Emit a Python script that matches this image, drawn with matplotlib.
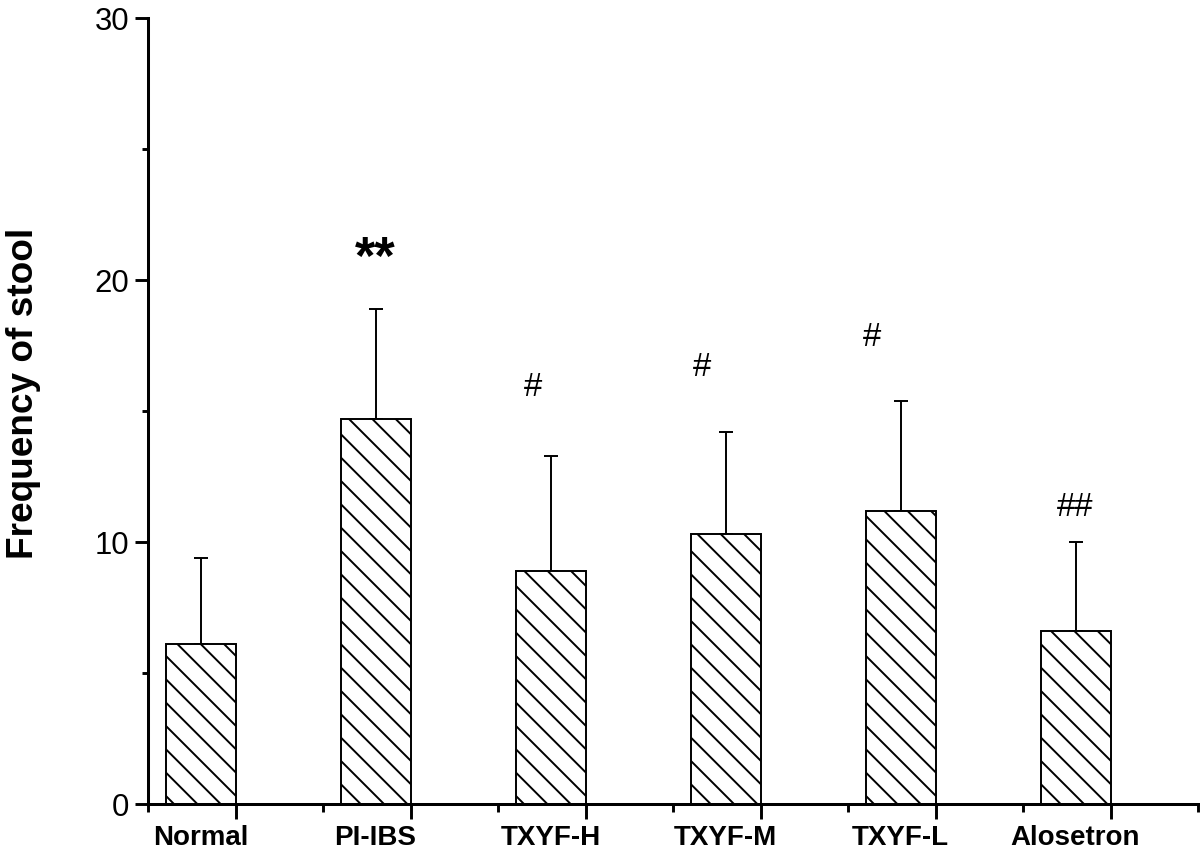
import matplotlib
matplotlib.use("Agg")
import matplotlib.pyplot as plt
import numpy as np
from matplotlib.transforms import blended_transform_factory

# data
groups = ['Normal', 'PI-IBS', 'TXYF-H', 'TXYF-M', 'TXYF-L', 'Alosetron']
means = [6.1, 14.7, 8.9, 10.3, 11.2, 6.6]
sds = [3.3, 4.2, 4.4, 3.9, 4.2, 3.4]
marks = ['', '**', '#', '#', '#', '##']
mark_y = [0, 20.75, 15.9, 16.65, 17.8, 11.3]
mark_dx = [0, 0, -0.1, -0.135, -0.165, 0]
yticks_major = [0, 10, 20, 30]
yticks_minor = [5, 15, 25]

DPI = 140
plt.rcParams['font.family'] = ['Liberation Sans', 'DejaVu Sans']
plt.rcParams['hatch.linewidth'] = 1.0

fig = plt.figure(figsize=(1200 / DPI, 852 / DPI), dpi=DPI)
ax = fig.add_axes([148 / 1200, 48 / 852, 1050 / 1200, 786 / 852])

x = np.arange(len(groups))
ax.bar(x, means, width=0.4, color='white', edgecolor='black',
       linewidth=1.0, hatch='\\\\', zorder=2)
ax.errorbar(x, means, yerr=[np.zeros(len(sds)), sds], fmt='none',
            ecolor='black', elinewidth=1.0, capsize=3.6, capthick=1.0, zorder=1)

for i, m in enumerate(marks):
    if not m:
        continue
    if '*' in m:
        ax.text(x[i] + mark_dx[i], mark_y[i], m, ha='center', va='center',
                fontsize=27, fontweight='bold')
    else:
        ax.text(x[i] + mark_dx[i], mark_y[i], m, ha='center', va='center',
                fontsize=17)

ax.set_xlim(-0.3, len(groups) - 0.3)
ax.set_ylim(0, 30)

ax.spines['top'].set_visible(False)
ax.spines['right'].set_visible(False)
ax.spines['left'].set_linewidth(1.55)
ax.spines['bottom'].set_linewidth(1.55)

# y axis
ax.set_yticks(yticks_major)
ax.set_yticks(yticks_minor, minor=True)
ax.tick_params(axis='y', which='major', direction='out', length=6.7,
               width=1.5, labelsize=16, pad=3)
ax.tick_params(axis='y', which='minor', direction='out', length=3, width=1.5)

# x axis: long ticks at bar right edges, short ticks at slot boundaries
ax.set_xticks(x + 0.2)
ax.set_xticklabels([])
ax.set_xticks(np.append(x - 0.3, len(groups) - 0.3), minor=True)
ax.tick_params(axis='x', which='major', direction='out', length=7.7, width=1.5)
ax.tick_params(axis='x', which='minor', direction='out', length=4, width=1.5)

trans = blended_transform_factory(ax.transData, ax.transAxes)
for i, g in enumerate(groups):
    ax.annotate(g, xy=(x[i], 0), xycoords=trans, xytext=(0, -11),
                textcoords='offset points', ha='center', va='top',
                fontsize=14.3, fontweight='bold')

fig.text(24 / 1200, 1 - 393 / 852, 'Frequency of stool', rotation=90,
         ha='center', va='center', fontsize=19, fontweight='bold')

fig.savefig('out.png', dpi=DPI)
